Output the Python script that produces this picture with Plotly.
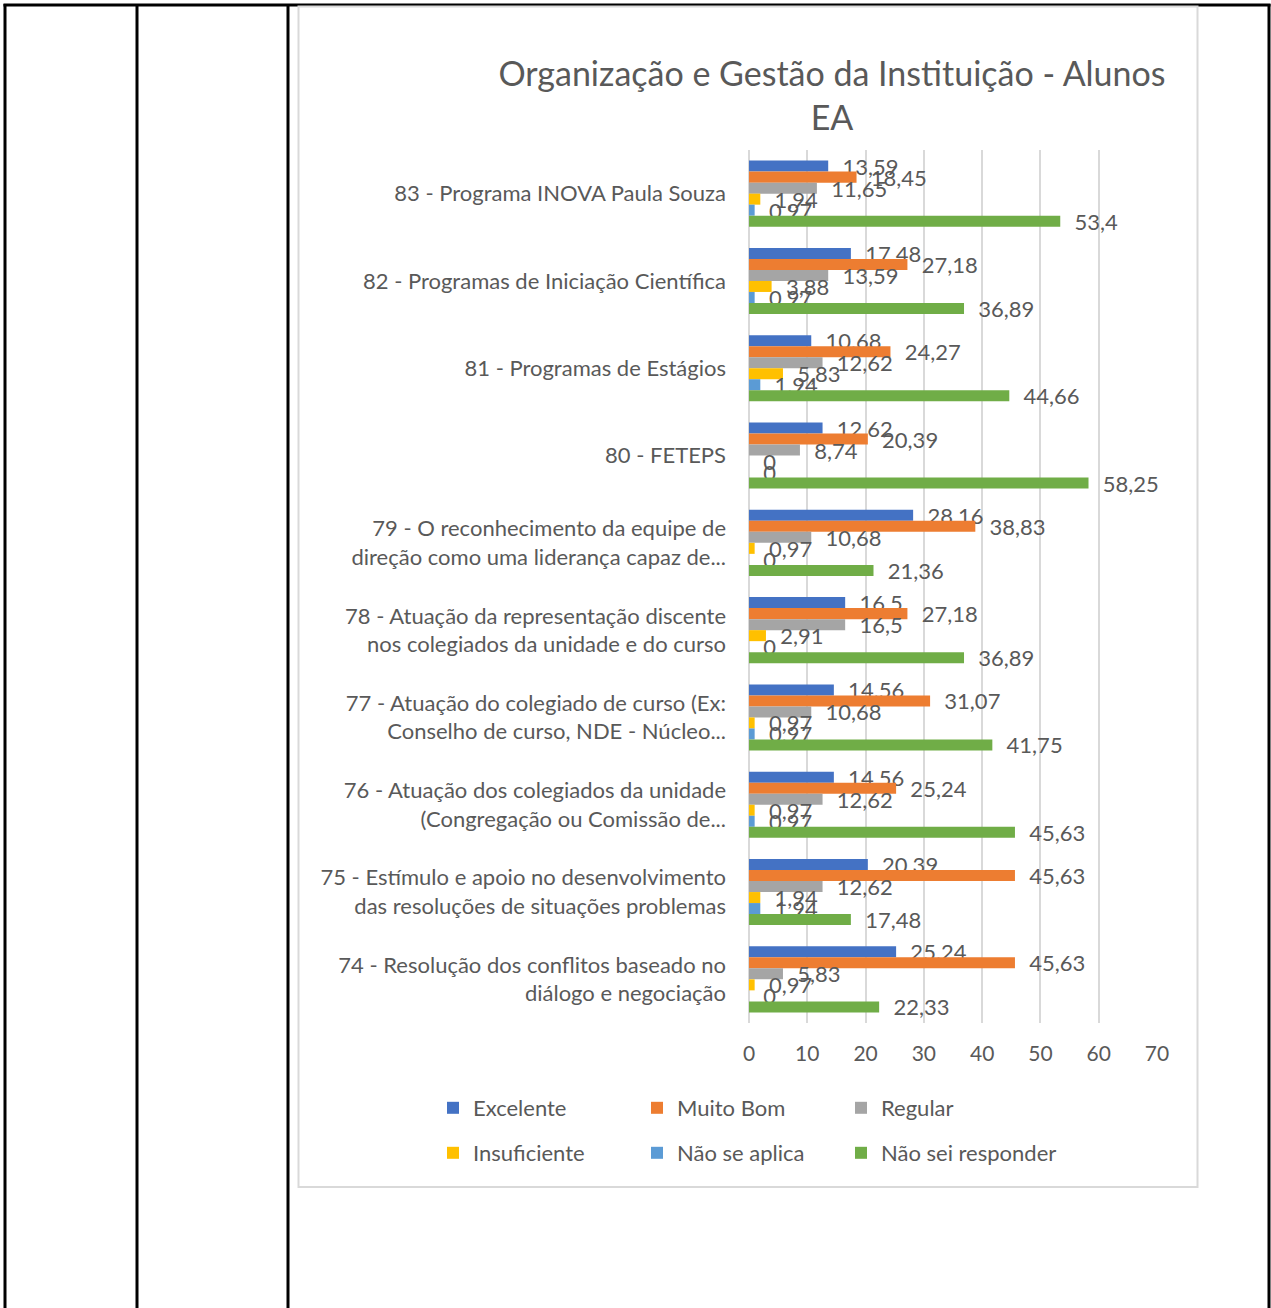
import plotly.graph_objects as go

categories = [
    "83 - Programa INOVA Paula Souza",
    "82 - Programas de Iniciação Científica",
    "81 - Programas de Estágios",
    "80 - FETEPS",
    "79 - O reconhecimento da equipe de<br>direção como uma liderança capaz de...",
    "78 - Atuação da representação discente<br>nos colegiados da unidade e do curso",
    "77 - Atuação do colegiado de curso (Ex:<br>Conselho de curso, NDE - Núcleo...",
    "76 - Atuação dos colegiados da unidade<br>(Congregação ou Comissão de...",
    "75 - Estímulo e apoio no desenvolvimento<br>das resoluções de situações problemas",
    "74 - Resolução dos conflitos baseado no<br>diálogo e negociação",
]

excelente = [13.59, 17.48, 10.68, 12.62, 28.16, 16.5, 14.56, 14.56, 20.39, 25.24]
muito_bom = [18.45, 27.18, 24.27, 20.39, 38.83, 27.18, 31.07, 25.24, 45.63, 45.63]
regular = [11.65, 13.59, 12.62, 8.74, 10.68, 16.5, 10.68, 12.62, 12.62, 5.83]
insuficiente = [1.94, 3.88, 5.83, 0, 0.97, 2.91, 0.97, 0.97, 1.94, 0.97]
nao_se_aplica = [0.97, 0.97, 1.94, 0, 0, 0, 0.97, 0.97, 1.94, 0]
nao_sei = [53.4, 36.89, 44.66, 58.25, 21.36, 36.89, 41.75, 45.63, 17.48, 22.33]

series_names = ["Excelente", "Muito Bom", "Regular", "Insuficiente", "Não se aplica", "Não sei responder"]
series_values = [excelente, muito_bom, regular, insuficiente, nao_se_aplica, nao_sei]
colors = ["#4472C4", "#ED7D31", "#A5A5A5", "#FFC000", "#5B9BD5", "#70AD47"]

x_ticks = [0, 10, 20, 30, 40, 50, 60, 70]

FONT = "Lato"
TXT = "#595959"
W, H = 1271, 1308
PL, PR, PT, PB = 749, 1157, 150, 1023  # plot area in px


def fmt(v):
    s = ("%g" % v).replace(".", ",")
    return "\u00a0\u00a0" + s


def px_x(p):
    return (p - PL) / (PR - PL)


def px_y(p):
    return (PB - p) / (PB - PT)


legend_ids = ["legend", "legend2", "legend3", "legend4", "legend5", "legend6"]
legend_cols_px = [433, 637, 841]
legend_rows_px = [1087, 1132]

fig = go.Figure()
for name, vals, col, lg in zip(series_names, series_values, colors, legend_ids):
    fig.add_trace(go.Bar(
        y=categories, x=vals, name=name, orientation="h",
        marker=dict(color=col, line=dict(width=0)),
        text=[fmt(v) for v in vals], textposition="outside",
        textfont=dict(family=FONT, size=22, color=TXT),
        constraintext="none", cliponaxis=False, legend=lg,
    ))

shapes = []
# table lines (document)
for xp in [5, 137, 288, 1269]:
    shapes.append(dict(type="line", xref="paper", yref="paper", layer="below",
                       x0=px_x(xp), x1=px_x(xp), y0=px_y(4), y1=px_y(1320),
                       line=dict(color="black", width=3)))
shapes.append(dict(type="line", xref="paper", yref="paper", layer="below",
                   x0=px_x(3.5), x1=px_x(1270.5), y0=px_y(5), y1=px_y(5),
                   line=dict(color="black", width=3)))
# chart area border
shapes.append(dict(type="rect", xref="paper", yref="paper", layer="below",
                   x0=px_x(298.5), x1=px_x(1197.5), y0=px_y(1187), y1=px_y(6.5),
                   line=dict(color="#D9D9D9", width=2)))

legends = {}
for i, lg in enumerate(legend_ids):
    legends[lg] = dict(orientation="h", x=px_x(legend_cols_px[i % 3]), xanchor="left",
                       y=px_y(legend_rows_px[i // 3]), yanchor="top",
                       font=dict(family=FONT, size=22, color=TXT),
                       bgcolor="rgba(0,0,0,0)")

fig.update_layout(
    width=W, height=H,
    margin=dict(l=PL, r=W - PR, t=PT, b=H - PB, autoexpand=False),
    paper_bgcolor="white", plot_bgcolor="white",
    font=dict(family=FONT, size=20, color=TXT),
    barmode="group", bargap=0.243, bargroupgap=0,
    title=dict(text="Organização e Gestão da Instituição - Alunos<br>EA",
               x=832 / W, xref="container", xanchor="center",
               y=1 - 86 / H, yref="container", yanchor="top",
               font=dict(family=FONT, size=34, color=TXT)),
    xaxis=dict(range=[0, 70], tickvals=x_ticks, showgrid=True, gridcolor="#D9D9D9", gridwidth=2,
               zeroline=True, zerolinecolor="#D9D9D9", zerolinewidth=2, showline=False,
               ticks="", ticklabelstandoff=16, tickfont=dict(family=FONT, size=21, color=TXT),
               fixedrange=True),
    yaxis=dict(range=[9.5, -0.5], showgrid=False, zeroline=False, showline=False,
               ticks="", ticklabelstandoff=22, tickfont=dict(family=FONT, size=22, color=TXT),
               fixedrange=True),
    shapes=shapes,
    showlegend=True,
    **legends,
)

fig.write_html("out.html", config={"displayModeBar": False},
               post_script="document.body.style.margin='0';document.body.style.overflow='hidden';")
